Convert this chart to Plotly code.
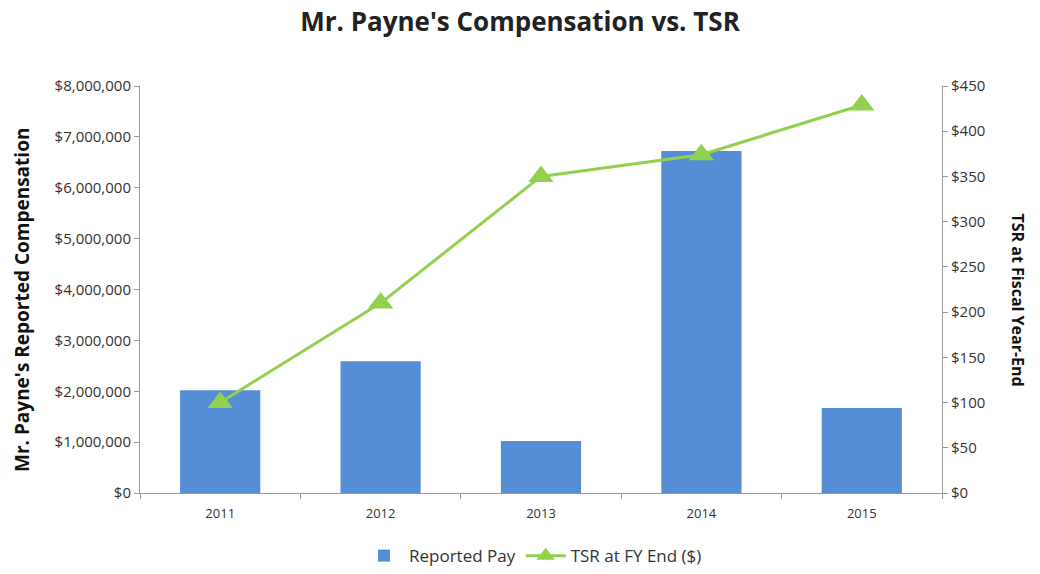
import plotly.graph_objects as go

years = ["2011", "2012", "2013", "2014", "2015"]
reported_pay = [2020000, 2590000, 1020000, 6720000, 1670000]
tsr = [100, 210, 350, 374, 429]

left_ticks = [0, 1000000, 2000000, 3000000, 4000000, 5000000, 6000000, 7000000, 8000000]
left_labels = ["$0", "$1,000,000", "$2,000,000", "$3,000,000", "$4,000,000",
               "$5,000,000", "$6,000,000", "$7,000,000", "$8,000,000"]
right_ticks = [0, 50, 100, 150, 200, 250, 300, 350, 400, 450]
right_labels = ["$0", "$50", "$100", "$150", "$200", "$250", "$300", "$350", "$400", "$450"]

font = "Open Sans, Liberation Sans, sans-serif"
fig = go.Figure()
fig.add_trace(go.Bar(x=years, y=reported_pay, name="Reported Pay",
                     marker=dict(color="#558ed5", line=dict(width=0)), width=0.5))
fig.add_trace(go.Scatter(x=years, y=tsr, name="TSR at FY End ($)", yaxis="y2",
                         mode="lines+markers",
                         line=dict(color="#92d050", width=3),
                         marker=dict(symbol="triangle-up", size=22, color="#92d050")))

fig.update_layout(
    width=1040, height=574,
    paper_bgcolor="white", plot_bgcolor="white",
    margin=dict(l=140, r=98, t=86, b=81, autoexpand=False),
    title=dict(text="<b>Mr. Payne's Compensation vs. TSR</b>", x=0.5, xanchor="center",
               y=0.962, yanchor="middle", font=dict(size=26, color="#222", family=font)),
    font=dict(family=font, size=12, color="#333"),
    showlegend=True,
    legend=dict(orientation="h", x=0.49, xanchor="center", y=-0.155, yanchor="middle",
                font=dict(size=17, color="#333"), itemwidth=40),
    xaxis=dict(showline=True, linecolor="#999", ticks="outside", tickson="boundaries",
               ticklen=5, tickcolor="#999", showgrid=False, automargin=False,
               ticklabelstandoff=8, tickfont=dict(size=13, color="#333")),
    yaxis=dict(range=[0, 8000000], tickvals=left_ticks, ticktext=left_labels,
               showline=True, linecolor="#999", ticks="outside", ticklen=5, tickcolor="#999",
               showgrid=False, zeroline=False, automargin=False,
               tickfont=dict(size=15, color="#333")),
    yaxis2=dict(range=[0, 450], tickvals=right_ticks, ticktext=right_labels,
                overlaying="y", side="right", automargin=False,
                showline=True, linecolor="#999", ticks="outside", ticklen=5, tickcolor="#999",
                showgrid=False, zeroline=False, tickfont=dict(size=15, color="#333")),
    annotations=[
        dict(text="<b>Mr. Payne's Reported Compensation</b>", xref="paper", yref="paper",
             x=-0.148, y=0.475, textangle=-90, showarrow=False,
             font=dict(size=19, color="#111"), xanchor="center", yanchor="middle"),
        dict(text="<b>TSR at Fiscal Year-End</b>", xref="paper", yref="paper",
             x=1.095, y=0.475, textangle=90, showarrow=False,
             font=dict(size=16, color="#111"), xanchor="center", yanchor="middle"),
    ],
)

fig.write_html("out.html", config={"displayModeBar": False},
               post_script="document.body.style.margin='0';")
